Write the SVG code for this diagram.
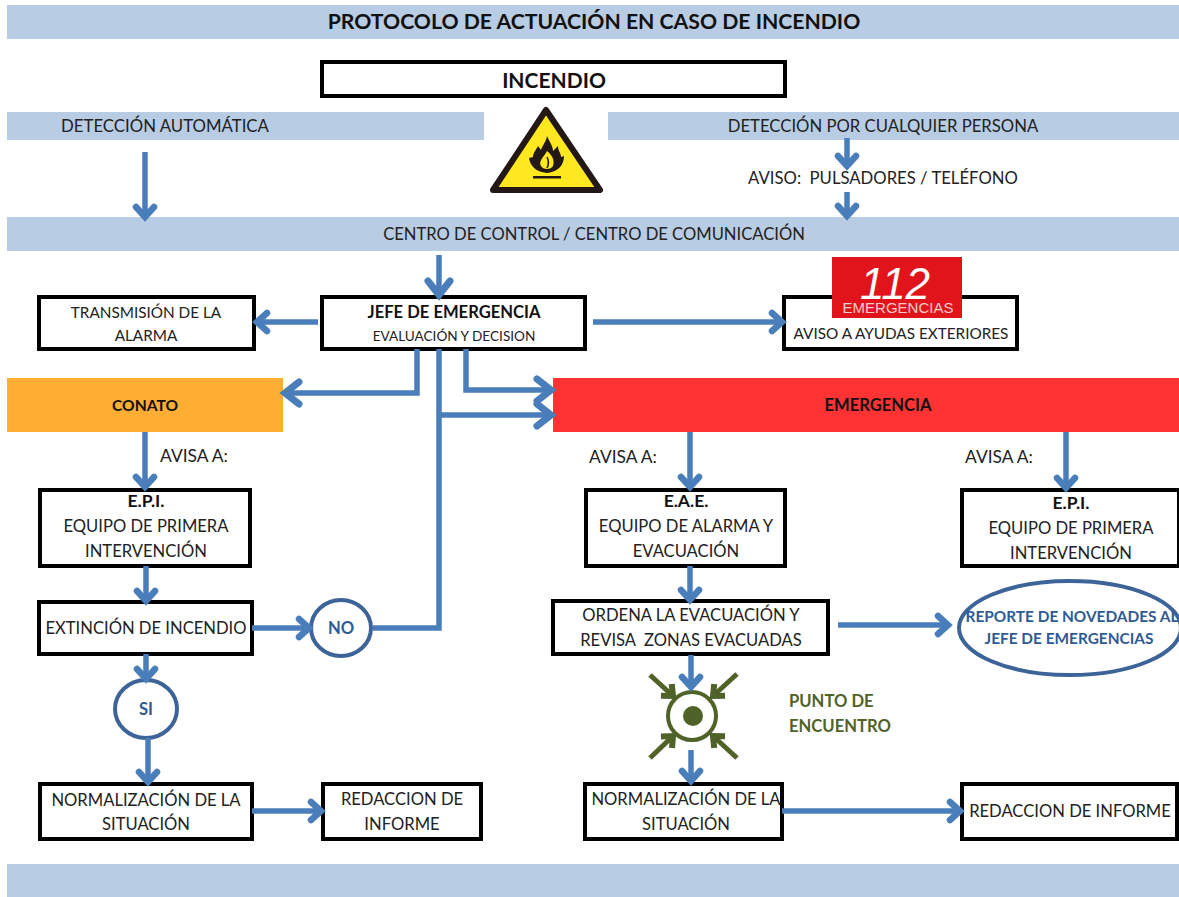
<svg xmlns="http://www.w3.org/2000/svg" width="1179" height="897" viewBox="0 0 1179 897">
<style>
text{font-family:Lato,"Open Sans","Liberation Sans",sans-serif;font-size:16.6px;fill:#222;text-anchor:middle}
.band{fill:#b8cce4}
.box{fill:#fff;stroke:#000;stroke-width:4}
.c{fill:none;stroke:#4a7ebb;stroke-width:5.5}
.a{marker-end:url(#ah)}
.A{marker-end:url(#ahb)}
.e{fill:#fff;stroke:#3d6499;stroke-width:4}
.b{font-weight:700;fill:#111}
.bl{font-weight:700;fill:#2f5a94}
.g{font-weight:700;fill:#4f6228;text-anchor:start}
.ga{fill:none;stroke:#4f6228;stroke-width:5;marker-end:url(#gh)}
.s{font-size:15.3px}
.av{font-size:17.4px}
</style>
<defs>
<marker id="ah" markerUnits="userSpaceOnUse" markerWidth="30" markerHeight="34" refX="19" refY="14" orient="auto" overflow="visible"><path d="M9 5L19 14L9 23" fill="none" stroke="#4a7ebb" stroke-width="6.5" stroke-linecap="round"/></marker>
<marker id="ahb" markerUnits="userSpaceOnUse" markerWidth="30" markerHeight="34" refX="21" refY="14" orient="auto" overflow="visible"><path d="M7 3L21 14L7 25" fill="none" stroke="#4a7ebb" stroke-width="7" stroke-linecap="round"/></marker>
<marker id="gh" markerUnits="userSpaceOnUse" markerWidth="24" markerHeight="24" refX="14" refY="10" orient="auto" overflow="visible"><path d="M5 2L14 10L5 18" fill="none" stroke="#4f6228" stroke-width="6"/></marker>
</defs>
<g id="title"><rect class="band" x="7" y="5" width="1172" height="34"/><text class="b" x="594" y="29" style="font-size:21.2px">PROTOCOLO DE ACTUACIÓN EN CASO DE INCENDIO</text></g>
<g id="incendio"><rect class="box" x="322" y="62" width="463" height="34"/><text class="b" x="554" y="88" style="font-size:21px">INCENDIO</text></g>
<g id="det-auto"><rect class="band" x="7" y="112" width="477" height="28"/><text x="165" y="132" style="font-size:16.8px">DETECCIÓN AUTOMÁTICA</text></g>
<g id="det-persona"><rect class="band" x="608" y="112" width="571" height="28"/><text x="883" y="132" style="font-size:16.7px">DETECCIÓN POR CUALQUIER PERSONA</text></g>
<g id="hazard">
<path d="M546 110L600 190H493Z" fill="#ffe81f" stroke="#231815" stroke-width="6" stroke-linejoin="round"/>
<path d="M547 136C550 143 553 146 553 151L558 146C558 151 561 153 561 157L564 156C564 164 559 172 547 173C535 172 530 165 529 158L533 157C533 153 536 150 538 146L541 150C542 146 546 142 547 136Z" fill="#231815"/>
<path d="M547 151C552 155 555 160 553 166C551 170 543 170 541 166C538 161 544 157 547 151Z" fill="#ffe81f"/>
<path d="M547 157C549 161 549 164 547 168" fill="none" stroke="#231815" stroke-width="1.5"/>
<rect x="533" y="176" width="28" height="2.5" fill="#231815"/>
</g>
<g id="aviso"><text x="883" y="184" xml:space="preserve" style="font-size:16.7px;white-space:pre">AVISO:  PULSADORES / TELÉFONO</text></g>
<g id="centro"><rect class="band" x="7" y="217" width="1172" height="34"/><text x="594" y="240">CENTRO DE CONTROL / CENTRO DE COMUNICACIÓN</text></g>
<g id="transmision"><rect class="box" x="39" y="297" width="215" height="52"/><text class="s" x="146" y="318">TRANSMISIÓN DE LA</text><text class="s" x="146" y="341">ALARMA</text></g>
<g id="jefe"><rect class="box" x="322" y="297" width="263" height="52"/><text class="b" x="454" y="318">JEFE DE EMERGENCIA</text><text x="454" y="341" style="font-size:13.6px">EVALUACIÓN Y DECISION</text></g>
<g id="ayudas"><rect class="box" x="784" y="297" width="233" height="52"/><rect x="832" y="257" width="130" height="61" fill="#e2141b"/><text x="895" y="299" style="font-family:'Liberation Sans',sans-serif;font-style:italic;font-size:44px;fill:#fff">112</text><text x="898" y="313" style="font-family:'Liberation Sans',sans-serif;font-size:15px;fill:#f2cccc">EMERGENCIAS</text><text class="s" x="901" y="339">AVISO A AYUDAS EXTERIORES</text></g>
<g id="conato"><rect x="7" y="378" width="276" height="54" fill="#ffad33"/><text class="b" x="145" y="411" style="font-size:15.6px">CONATO</text></g>
<g id="emergencia"><rect x="553" y="378" width="626" height="54" fill="#ff3333"/><text class="b" x="878" y="411">EMERGENCIA</text></g>
<g id="avisa"><text class="av" x="194" y="462">AVISA A:</text><text class="av" x="623" y="463">AVISA A:</text><text class="av" x="999" y="463">AVISA A:</text></g>
<g id="epi1"><rect class="box" x="40" y="490" width="210" height="76"/><text class="b" x="146" y="507" style="font-size:17.5px">E.P.I.</text><text x="146" y="532">EQUIPO DE PRIMERA</text><text x="146" y="557">INTERVENCIÓN</text></g>
<g id="eae"><rect class="box" x="586" y="490" width="199" height="76"/><text class="b" x="686" y="507" style="font-size:17.5px">E.A.E.</text><text x="686" y="532">EQUIPO DE ALARMA Y</text><text x="686" y="557">EVACUACIÓN</text></g>
<g id="epi2"><rect class="box" x="962" y="490" width="217" height="76"/><text class="b" x="1071" y="509" style="font-size:17.5px">E.P.I.</text><text x="1071" y="534">EQUIPO DE PRIMERA</text><text x="1071" y="559">INTERVENCIÓN</text></g>
<g id="extincion"><rect class="box" x="39" y="602" width="213" height="52"/><text x="146" y="634">EXTINCIÓN DE INCENDIO</text></g>
<g id="no"><ellipse class="e" cx="341" cy="628" rx="30" ry="28"/><text class="bl" x="341" y="634">NO</text></g>
<g id="ordena"><rect class="box" x="553" y="601" width="275" height="53"/><text x="691" y="621">ORDENA LA EVACUACIÓN Y</text><text x="691" y="646" xml:space="preserve" style="white-space:pre">REVISA  ZONAS EVACUADAS</text></g>
<g id="reporte"><ellipse class="e" cx="1070" cy="628" rx="111" ry="47"/><text class="bl" x="1072" y="622" style="font-size:15.4px">REPORTE DE NOVEDADES AL</text><text class="bl" x="1069" y="644" style="font-size:15.4px">JEFE DE EMERGENCIAS</text></g>
<g id="si"><ellipse class="e" cx="146" cy="709" rx="31" ry="29"/><text class="bl" x="146" y="715">SI</text></g>
<g id="punto">
<circle cx="692" cy="716" r="24" fill="none" stroke="#4f6228" stroke-width="4"/><circle cx="693" cy="716" r="10" fill="#4f6228"/>
<path class="ga" d="M650 675L673 696"/><path class="ga" d="M737 674L713 696"/><path class="ga" d="M650 758L673 736"/><path class="ga" d="M737 758L713 736"/>
<text class="g" x="789" y="707">PUNTO DE</text><text class="g" x="789" y="732">ENCUENTRO</text>
</g>
<g id="norm1"><rect class="box" x="40" y="784" width="212" height="55"/><text x="146" y="806">NORMALIZACIÓN DE LA</text><text x="146" y="830">SITUACIÓN</text></g>
<g id="redaccion1"><rect class="box" x="323" y="784" width="158" height="55"/><text x="402" y="805">REDACCION DE</text><text x="402" y="830">INFORME</text></g>
<g id="norm2"><rect class="box" x="585" y="784" width="197" height="55"/><text x="686" y="805">NORMALIZACIÓN DE LA</text><text x="686" y="830">SITUACIÓN</text></g>
<g id="redaccion2"><rect class="box" x="962" y="784" width="215" height="55"/><text x="1070" y="817">REDACCION DE INFORME</text></g>
<g id="footer"><rect class="band" x="7" y="864" width="1172" height="33"/></g>
<g id="connectors">
<path class="c a" d="M145 152V217"/>
<path class="c a" d="M847 138V166"/>
<path class="c a" d="M847 192V216"/>
<path class="c A" d="M439 255V295"/>
<path class="c a" d="M318 322H257"/>
<path class="c a" d="M593 322H782"/>
<path class="c A" d="M417 349V393H285"/>
<path class="c A" d="M466 349V390H551"/>
<path class="c" d="M439 349V628H373"/>
<path class="c A" d="M439 415H551"/>
<path class="c a" d="M145 432V487"/>
<path class="c a" d="M690 432V487"/>
<path class="c a" d="M1066 432V488"/>
<path class="c a" d="M146 566V601"/>
<path class="c a" d="M690 566V600"/>
<path class="c a" d="M252 628H309"/>
<path class="c a" d="M838 625H948"/>
<path class="c a" d="M146 654V679"/>
<path class="c a" d="M148 738V782"/>
<path class="c a" d="M691 655V687"/>
<path class="c a" d="M691 750V781"/>
<path class="c a" d="M252 811H321"/>
<path class="c a" d="M782 811H960"/>
</g>
</svg>
